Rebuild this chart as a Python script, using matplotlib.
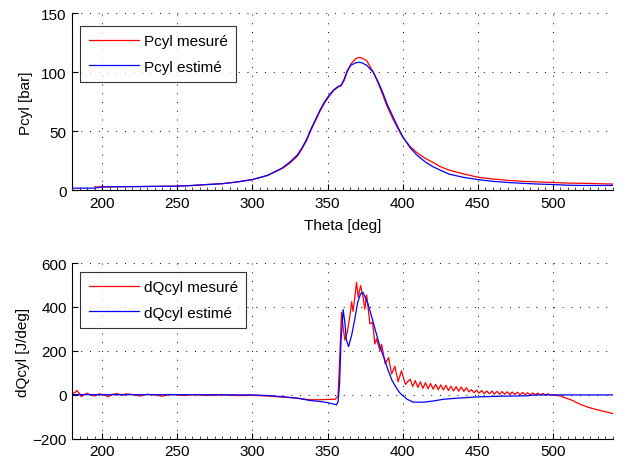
import matplotlib
matplotlib.use("Agg")
import matplotlib.pyplot as plt
from matplotlib.ticker import MultipleLocator

plt.rcParams['font.family'] = ['Liberation Sans', 'DejaVu Sans']
plt.rcParams['font.size'] = 11
plt.rcParams['axes.unicode_minus'] = True

# ---- Pressure data ----
theta_p_mes = [195, 200, 220, 250, 260, 270, 280, 290, 300, 310, 320, 325, 330, 333, 336, 339, 342, 345,
               348, 351, 354, 357, 359, 361, 363, 365.5, 368.7, 371, 373, 376, 380.5, 384, 387, 390, 393.7,
               397, 400, 405, 409.3, 415, 420, 425, 431, 440, 450, 460, 470, 480, 490, 500, 510, 520, 530, 540]
p_mes = [2.8, 2.8, 3.0, 3.4, 4.0, 4.8, 5.5, 7.0, 9.0, 12.5, 18.5, 23, 29, 35, 42, 51, 59, 67,
         74, 79.5, 84.5, 87.5, 88.5, 93, 100, 107, 111.5, 112.7, 112, 110, 100, 90, 80, 70, 60,
         52, 45, 37, 32, 27, 23.7, 20, 17, 14, 11, 9.5, 8.3, 7.5, 7, 6.5, 6, 5.8, 5.5, 5.2]

theta_p_est = [180, 195, 200, 250, 260, 270, 280, 290, 300, 310, 320, 325, 330, 333, 336, 339, 342, 345,
               348, 351, 354, 357, 359, 361, 363, 365.5, 368.7, 371, 373, 376, 380.5, 384, 387, 390, 393.7,
               397, 400, 405, 409.3, 415, 420, 425, 431, 440, 450, 460, 470, 480, 490, 500, 510, 520, 530, 540]
p_est = [1.7, 1.7, 2.8, 3.4, 4.0, 4.8, 5.5, 7.0, 9.0, 12.5, 19, 24, 30, 36, 43, 52, 60, 68,
         75, 80.5, 85, 88, 89, 94, 101, 106, 108, 108.5, 108, 106, 100, 91, 82, 72, 62,
         53, 45.5, 36, 30, 24, 20, 17, 13.6, 11, 9, 7.5, 6.5, 5.8, 5.2, 4.8, 4.2, 4, 4, 4]

# ---- Heat release data ----
theta_q_mes = [180, 182, 183, 185, 186, 188, 190, 192, 195, 198, 201, 204, 207, 210, 213, 216, 220, 225,
               230, 235, 240, 245, 250, 255, 260, 270, 280, 290, 300, 310, 320, 330, 338, 345, 352, 355,
               357, 358, 359.3, 360.5, 361.5, 363, 365, 366, 367, 369.3, 370.4, 372, 373.7, 374.8, 376,
               378.2, 380, 381.5, 382.6, 385, 386, 388.4, 390.6, 392.6, 394.8, 397, 399.2, 401.8,
               405, 406.7, 408.4, 410.1, 411.8, 413.5, 415.2, 416.9, 418.6, 420.3, 422, 423.7, 425.4,
               427.1, 428.8, 430.5, 432.2, 433.9, 435.6, 437.3, 439, 440.7, 442.4, 444.1, 445.8, 447.5,
               449.2, 450.9, 452.6, 454.3, 456, 457.7, 459.4, 461.1, 462.8, 464.5, 466.2, 467.9, 469.6,
               471.3, 473, 474.7, 476.4, 478.1, 479.8, 481.5, 483.2, 484.9, 486.6, 488.3, 490, 491.7,
               493.4, 495.1, 496.8, 498.5, 500, 505, 509, 513, 518, 523, 527, 532, 536, 540]
q_mes = [5, 12, 20, 5, -8, 2, 8, 0, -5, 5, 0, -8, 3, 6, -2, 5, 2, -5,
         3, 0, -6, 2, 0, -3, 1, -2, 0, -3, -2, -5, -10, -15, -22, -22, -20, -20,
         -5, 150, 376, 300, 250, 280, 364, 424, 380, 512, 445, 497, 444, 390, 455,
         323, 330, 232, 255, 201, 230, 141, 170, 95, 130, 60, 110, 48,
         72, 38, 65, 34, 60, 30, 56, 28, 52, 26, 48, 24, 46,
         22, 44, 20, 40, 18, 38, 17, 36, 16, 33, 14, 24, 10,
         22, 8, 20, 6, 18, 5, 17, 4, 16, 3, 15, 3, 14,
         2, 13, 2, 12, 1, 11, 1, 10, 0, 9, 0, 8, 0,
         7, -1, 5, -1, 0, -5, -15, -25, -42, -55, -63, -72, -78, -85]

theta_q_est = [180, 250, 300, 310, 320, 330, 338, 345, 350, 353, 356, 357, 358, 359, 360.4, 361.5, 362.5,
               364, 366, 368, 370, 372, 373.5, 375, 377, 380, 382, 385, 388, 390.4, 393, 396, 398,
               400.4, 403, 407, 414, 420, 427, 436, 450, 465, 483, 488, 540]
q_est = [1, 1, 0, -3, -8, -15, -25, -30, -35, -40, -45, -30, 50, 250, 388, 330, 250,
         220, 270, 340, 420, 460, 467, 445, 413, 340, 290, 217, 160, 110, 65, 30, 10,
         -5, -20, -33, -33, -28, -20, -15, -9, -6, -4, 0, 0]

x_ticks = [200, 250, 300, 350, 400, 450, 500]

fig = plt.figure(figsize=(6.28, 4.64), dpi=100)
ax1 = fig.add_axes([0.115, 0.588, 0.861, 0.381])
ax2 = fig.add_axes([0.115, 0.052, 0.861, 0.379])

ax1.plot(theta_p_mes, p_mes, color='#ff0000', lw=0.9, label='Pcyl mesuré')
ax1.plot(theta_p_est, p_est, color='#0000ff', lw=0.9, label='Pcyl estimé')
ax1.set_xlim(180, 540)
ax1.set_ylim(0, 150)
ax1.set_yticks([0, 50, 100, 150])
ax1.set_ylabel('Pcyl [bar]', labelpad=6)
ax1.set_xlabel('Theta [deg]', labelpad=6)

ax2.plot(theta_q_mes, q_mes, color='#ff0000', lw=0.9, label='dQcyl mesuré')
ax2.plot(theta_q_est, q_est, color='#0000ff', lw=0.9, label='dQcyl estimé')
ax2.set_xlim(180, 540)
ax2.set_ylim(-200, 600)
ax2.set_yticks([-200, 0, 200, 400, 600])
ax2.set_ylabel('dQcyl [J/deg]', labelpad=2)

for ax, anchor in ((ax1, (0.015, 0.93)), (ax2, (0.015, 0.95))):
    ax.set_xticks(x_ticks)
    ax.xaxis.set_minor_locator(MultipleLocator(5))
    ax.grid(True, which='major', color='black', linestyle=(0, (1, 8)), linewidth=0.7)
    ax.spines['top'].set_visible(False)
    ax.spines['right'].set_visible(False)
    ax.tick_params(which='major', direction='in', length=4, width=0.8, labelsize=11, pad=4)
    ax.tick_params(which='minor', axis='x', direction='in', length=2, width=0.5)
    leg = ax.legend(loc='upper left', bbox_to_anchor=anchor, borderaxespad=0,
                    frameon=True, fancybox=False, shadow=False, handlelength=3.3,
                    handletextpad=0.3, borderpad=0.55, labelspacing=0.75, fontsize=11)
    leg.get_frame().set_edgecolor('black')
    leg.get_frame().set_linewidth(0.8)

fig.savefig('out.png', dpi=100)
